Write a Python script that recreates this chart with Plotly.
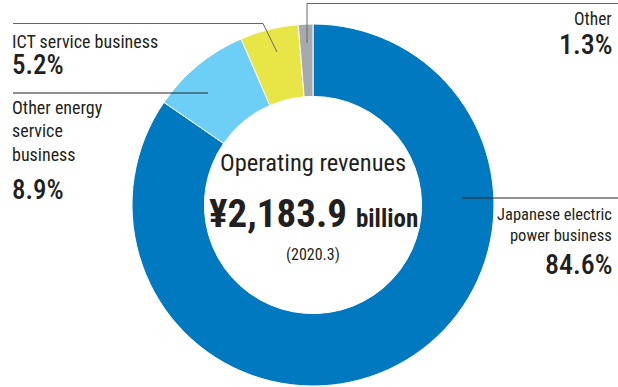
import plotly.graph_objects as go

W, H = 618, 387

# Operating revenue breakdown (FY ending 2020.3), clockwise from 12 o'clock
segments = ["Japanese electric power business", "Other energy service business",
            "ICT service business", "Other"]
shares = [84.6, 8.9, 5.2, 1.3]
colors = ["#0079C1", "#6DCFF6", "#E8E546", "#A7A9AC"]

total_label = "¥2,183.9"
total_unit = "billion"
period = "(2020.3)"

FONT = "Roboto Condensed, Liberation Sans Narrow, sans-serif"
INK = "#231F20"


def px(x):
    return x / W


def py(y):
    return 1 - y / H


fig = go.Figure()

# donut: centre (313, 205), outer radius 181 px
cx, cy, r = 313, 205, 181
fig.add_trace(go.Pie(
    labels=segments,
    values=shares,
    sort=False,
    direction="clockwise",
    rotation=0,
    hole=0.6,
    marker=dict(colors=colors, line=dict(color="white", width=1)),
    textinfo="none",
    hoverinfo="label+percent",
    showlegend=False,
    domain=dict(x=[px(cx - r), px(cx + r)], y=[py(cy + r), py(cy - r)]),
))

shapes = []


def seg(x0, y0, x1, y1, color="#3a3a3a", width=1):
    shapes.append(dict(type="line", xref="paper", yref="paper",
                       x0=px(x0), y0=py(y0), x1=px(x1), y1=py(y1),
                       line=dict(color=color, width=width)))


# leader lines
seg(13, 23.5, 263, 23.5, "#666666")
seg(263, 23.5, 277, 52, "#666666")
seg(13, 93, 208, 93, "#222222")
seg(307, 43, 307, 3.5, "#666666")
seg(307, 3.5, 618, 3.5, "#666666")
seg(462, 198, 618, 198, "#222222")

annotations = []


def label(text, x, y, size, anchor="left", weight="normal"):
    annotations.append(dict(
        text=text,
        xref="paper", yref="paper", x=px(x), y=py(y),
        xanchor=anchor, yanchor="middle", showarrow=False,
        align=anchor, font=dict(family=FONT, size=size, color=INK, weight=weight),
    ))


def pct(v):
    return f"{v:.1f}%"


# segment labels
label("ICT service business", 10, 42, 18)
label(pct(shares[2]), 10, 65, 27, weight=500)
label("Other energy<br>service<br>business", 10, 131, 18)
label(pct(shares[1]), 10, 190, 27, weight=500)
label("Other", 614, 19, 17.5, anchor="right")
label(pct(shares[3]), 615, 45, 28, anchor="right", weight=500)
label("Japanese electric<br>power business", 614, 225, 16.5, anchor="right")
label(pct(shares[0]), 615, 264, 28, anchor="right", weight=500)

# centre text
annotations.append(dict(
    text="Operating revenues", xref="paper", yref="paper",
    x=px(313), y=py(163), xanchor="center", yanchor="middle", showarrow=False,
    font=dict(family=FONT, size=24.5, color=INK)))
annotations.append(dict(
    text=f"<b>{total_label}</b> <b><span style='font-size:25px'>{total_unit}</span></b>",
    xref="paper", yref="paper",
    x=px(313), y=py(214), xanchor="center", yanchor="middle", showarrow=False,
    font=dict(family=FONT, size=39, color=INK)))
annotations.append(dict(
    text=period, xref="paper", yref="paper",
    x=px(313), y=py(255), xanchor="center", yanchor="middle", showarrow=False,
    font=dict(family=FONT, size=16, color=INK)))

fig.update_layout(
    width=W, height=H,
    margin=dict(l=0, r=0, t=0, b=0),
    paper_bgcolor="white", plot_bgcolor="white",
    shapes=shapes, annotations=annotations,
)

fig.write_html("out.html")
